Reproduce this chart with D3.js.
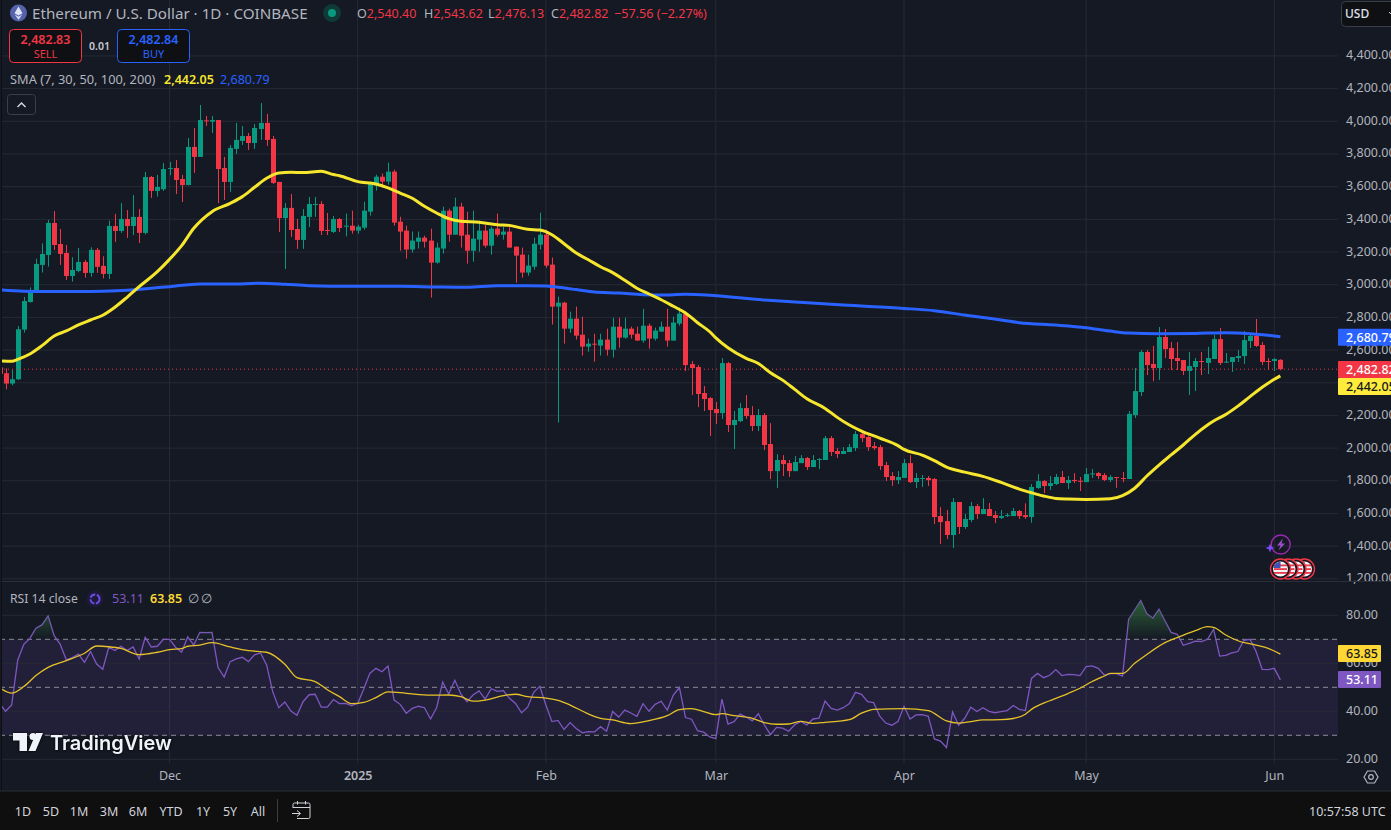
<!DOCTYPE html>
<html><head><meta charset="utf-8">
<style>
html,body{margin:0;padding:0;background:#151924;overflow:hidden}
svg{display:block}
text{font-family:"Noto Sans",Roboto,sans-serif}
</style>
<script src="https://cdn.jsdelivr.net/npm/d3@7"></script>
</head><body><div id="chart"></div>
<script>
const firstDay = "2024-11-03", lastDay = "2025-06-02";
const opens = [
2494,2458,2395,2421,2725,2894,2958,3121,3182,3378,3249,3194,3053,3084,3139,3072,3213,3115,3066,3359,3329,3402,3359,3415,3317,3659,3574,3584,
3710,3714,3647,3610,3843,3782,4006,3998,4008,3714,3629,3831,3880,3910,3867,3953,3990,3892,3629,3408,3470,3341,3274,3415,3490,3494,3335,3323,3402,3355,3361,
3331,3349,3447,3606,3661,3631,3692,3386,3331,3215,3263,3288,3270,3135,3221,3453,3306,3478,3306,3208,3276,3331,3239,3343,3306,3325,3233,3184,3074,3110,3245,
3306,3123,2866,2890,2731,2792,2694,2621,2639,2627,2664,2602,2743,2676,2731,2700,2658,2749,2670,2713,2743,2658,2762,2820,2514,2496,2337,2306,
2239,2214,2520,2141,2165,2245,2202,2135,2202,2025,1859,1927,1908,1859,1908,1939,1884,1927,1927,2061,1982,1964,1976,2000,2086,2068,2012,2006,1896,1829,1804,
1817,1908,1792,1811,1817,1811,1584,1553,1468,1670,1517,1560,1645,1596,1627,1590,1572,1584,1584,1615,1590,1578,1756,1798,1768,1780,1823,1786,1805,1800,
1792,1841,1847,1835,1805,1823,1817,1811,2202,2343,2588,2515,2490,2680,2612,2551,2539,2472,2496,2533,2521,2545,2667,2525,2527,2551,2563,2655,2686,2631,2533,
2533,2540.40];
const highs = [
2499,2488,2478,2747,2925,2984,3160,3253,3396,3451,3341,3243,3168,3225,3151,3229,3225,3174,3392,3433,3500,3457,3549,3463,3690,3665,3672,3745,
3751,3763,3672,3898,3959,4100,4033,4033,4008,3782,3855,3990,3971,3929,3984,4112,4045,3910,3629,3500,3555,3402,3463,3537,3537,3512,3439,3421,3408,3435,3453,
3367,3508,3631,3673,3680,3747,3704,3416,3361,3325,3325,3300,3343,3257,3478,3465,3533,3502,3447,3453,3392,3367,3355,3435,3355,3367,3233,3227,3184,3288,3441,
3337,3166,2927,2896,2835,2866,2804,2670,2700,2700,2731,2798,2798,2798,2743,2743,2853,2762,2737,2774,2853,2804,2860,2839,2533,2508,2380,2312,
2282,2551,2527,2227,2276,2325,2257,2239,2214,2153,1963,1957,1927,1951,1957,1945,1957,1939,2074,2074,2000,2006,2025,2104,2104,2080,2037,2019,1915,1853,1859,
1933,1957,1847,1835,1829,1817,1639,1621,1694,1670,1596,1670,1658,1694,1664,1615,1621,1602,1633,1621,1662,1780,1841,1804,1829,1841,1860,1829,1847,1823,
1878,1872,1854,1847,1835,1823,1854,2227,2490,2600,2600,2625,2741,2729,2649,2649,2539,2588,2551,2588,2619,2692,2735,2582,2557,2600,2716,2704,2790,2649,2551,
2551,2543.62];
const lows = [
2450,2360,2384,2417,2707,2890,2953,3074,3111,3213,3121,3029,3019,3076,3043,3049,3072,3039,3035,3262,3317,3286,3304,3255,3308,3531,3539,3574,
3670,3555,3506,3608,3684,3782,3971,3929,3500,3519,3568,3800,3855,3825,3831,3886,3849,3616,3323,3096,3292,3219,3219,3353,3415,3304,3304,3317,3323,3296,3312,
3312,3337,3423,3576,3594,3612,3361,3208,3159,3196,3221,3227,2921,3129,3190,3263,3306,3227,3129,3141,3202,3227,3184,3294,3276,3227,3013,3043,3055,3092,3215,
3104,2756,2156,2639,2706,2664,2566,2590,2529,2566,2566,2554,2615,2670,2670,2658,2645,2609,2658,2713,2621,2658,2749,2471,2325,2251,2227,2074,
2147,2178,2098,1994,2159,2178,2104,2104,1988,1810,1755,1829,1823,1859,1908,1866,1884,1872,1927,1951,1939,1964,1976,1982,2037,1982,1988,1866,1798,1768,1780,
1817,1786,1755,1762,1768,1535,1413,1443,1388,1474,1505,1547,1566,1596,1584,1541,1566,1578,1584,1566,1566,1543,1750,1725,1743,1774,1786,1750,1786,1737,
1792,1817,1811,1798,1792,1756,1792,1811,2184,2319,2447,2410,2417,2551,2478,2478,2447,2325,2349,2447,2453,2545,2508,2521,2466,2527,2515,2612,2619,2508,2478,
2472,2476.13];
const closes = [
2454,2395,2421,2727,2900,2964,3127,3188,3378,3243,3188,3053,3090,3139,3072,3213,3109,3066,3359,3329,3402,3359,3415,3317,3659,3574,3598,3708,
3714,3641,3610,3843,3782,4008,4002,4008,3708,3629,3837,3886,3910,3867,3959,3990,3886,3623,3408,3470,3335,3274,3421,3494,3494,3329,3329,3402,3347,3361,3331,
3355,3453,3625,3661,3631,3692,3380,3325,3215,3270,3288,3263,3135,3227,3453,3306,3478,3300,3208,3282,3331,3239,3343,3306,3325,3227,3178,3074,3117,3251,3306,
3117,2866,2890,2731,2792,2688,2621,2639,2635,2664,2602,2743,2676,2731,2694,2658,2749,2670,2719,2743,2658,2768,2823,2508,2490,2331,2300,2233,
2214,2520,2141,2172,2245,2196,2135,2202,2019,1859,1927,1902,1859,1915,1939,1884,1927,1933,2061,1976,1964,1982,2006,2086,2061,2006,2000,1890,1823,1804,1823,
1908,1792,1817,1817,1804,1578,1547,1468,1670,1517,1566,1645,1596,1627,1584,1572,1584,1590,1615,1584,1578,1762,1798,1768,1786,1823,1786,1805,1798,1796,
1841,1845,1829,1805,1823,1819,1811,2209,2349,2588,2508,2490,2680,2606,2545,2533,2472,2502,2533,2527,2551,2667,2521,2529,2557,2563,2661,2686,2625,2527,2529,
2545,2482.82];

const smaDates = ["2024-11-03","2024-11-05","2024-11-06","2024-11-08","2024-11-10","2024-11-12","2024-11-14","2024-11-16","2024-11-18","2024-11-20","2024-11-22","2024-11-24","2024-11-26","2024-11-29","2024-12-01","2024-12-03","2024-12-05","2024-12-08","2024-12-11","2024-12-13","2024-12-15","2024-12-17","2024-12-19","2024-12-21","2024-12-23","2024-12-26","2024-12-28",
"2024-12-29","2025-01-01","2025-01-04","2025-01-06","2025-01-08","2025-01-10","2025-01-12","2025-01-14","2025-01-16","2025-01-18","2025-01-21","2025-01-24","2025-01-26","2025-01-29","2025-01-31","2025-02-02","2025-02-04","2025-02-06","2025-02-08","2025-02-10","2025-02-12","2025-02-14","2025-02-16","2025-02-18","2025-02-20","2025-02-22","2025-02-24",
"2025-02-26","2025-02-28","2025-03-01","2025-03-03","2025-03-06","2025-03-08","2025-03-10","2025-03-12","2025-03-14","2025-03-16","2025-03-19","2025-03-21","2025-03-23","2025-03-25","2025-03-28","2025-03-31","2025-04-01","2025-04-04","2025-04-06","2025-04-08","2025-04-11","2025-04-14","2025-04-17","2025-04-20","2025-04-22","2025-04-24","2025-04-26","2025-04-28","2025-05-01","2025-05-05","2025-05-07","2025-05-09","2025-05-11","2025-05-13","2025-05-15","2025-05-17","2025-05-19","2025-05-21","2025-05-22","2025-05-24","2025-05-26","2025-05-28","2025-05-30","2025-06-01","2025-06-02"];
const sma50 = [2533,2531,2543,2576,2627,2686,2717,2754,2784,2813,2862,2923,2988,3080,3155,3239,3345,3447,3498,3539,3596,3651,3684,3688,3686,3694,3674,
3667,3631,3616,3592,3561,3529,3480,3439,3404,3388,3382,3367,3363,3339,3335,3306,3251,3194,3153,3110,3074,3027,2978,2943,2908,2868,2827,
2767,2712,2675,2614,2549,2518,2461,2416,2359,2302,2243,2188,2141,2104,2061,2015,1992,1957,1923,1884,1853,1827,1790,1749,1727,1707,1692,1688,1686,1690,1709,1754,1829,1896,1958,2019,2084,2141,2166,2206,2257,2315,2372,2421,2442.05];

const sma200Dates = ["2024-11-03","2024-11-07","2024-11-11","2024-11-16","2024-11-20","2024-11-24","2024-11-28","2024-12-01","2024-12-06","2024-12-11","2024-12-16","2024-12-20","2024-12-24","2024-12-31","2025-01-08","2025-01-14","2025-01-19","2025-01-24","2025-01-29","2025-02-01","2025-02-03","2025-02-06","2025-02-09","2025-02-13","2025-02-17","2025-02-20","2025-02-24","2025-03-09","2025-03-14","2025-03-22","2025-04-01","2025-04-06","2025-04-11","2025-04-17","2025-04-20","2025-04-26","2025-05-01","2025-05-05","2025-05-08","2025-05-13","2025-05-19","2025-05-24","2025-05-28","2025-05-31","2025-06-02"];
const sma200 = [2968,2960,2958,2958,2960,2966,2978,2988,3004,3004,3009,3003,2994,2990,2990,2986,2984,2994,2994,2992,2984,2970,2955,2949,2939,2937,2941,2906,2894,2875,2855,2841,2814,2784,2767,2753,2737,2716,2704,2700,2702,2706,2700,2690,2680.79];

const rsiValues = [
43.3,40.0,42.6,61.4,67.9,70.4,74.6,76.0,79.7,71.5,67.9,61.4,62.4,63.8,60.4,64.9,59.7,57.5,66.7,65.3,67.1,65.3,66.8,61.8,70.8,66.8,67.1,70.0,
70.0,66.7,64.6,71.0,67.6,72.9,72.8,72.9,58.2,54.3,60.7,61.8,62.5,60.7,63.5,64.3,59.3,48.2,41.5,43.9,40.1,38.3,44.0,46.9,47.1,41.7,41.7,44.9,43.2,43.3,42.4,
43.3,49.3,55.8,57.9,56.5,58.9,44.7,42.9,39.2,41.2,42.1,41.5,36.8,41.5,52.2,47.2,52.9,47.2,44.0,46.8,48.5,45.1,49.4,48.3,48.6,45.4,43.3,39.4,41.7,47.9,50.4,
42.6,35.7,36.2,32.4,35.3,32.8,31.0,31.5,31.4,33.6,31.7,39.9,37.6,40.5,39.3,37.9,43.2,40.0,42.9,44.2,40.5,46.8,49.9,37.4,36.7,31.9,31.3,29.3,
28.6,45.1,34.7,35.7,38.8,37.6,36.0,39.0,34.3,30.3,33.3,33.0,31.7,34.4,35.8,34.3,36.8,37.1,44.3,41.2,40.5,41.5,43.2,47.9,47.1,44.0,43.6,38.0,35.1,34.2,35.7,
42.1,36.8,38.5,38.6,37.9,28.5,27.6,24.9,39.7,34.2,37.1,41.7,39.9,41.5,40.0,39.4,39.9,40.3,42.4,40.8,40.3,53.7,55.8,54.0,55.0,57.4,54.9,55.4,55.3,54.9,
58.6,58.9,57.9,55.1,55.7,55.7,54.7,78.3,82.2,86.1,80.6,78.8,82.5,77.6,72.9,72.1,67.5,68.3,69.2,69.0,70.0,74.2,63.0,63.3,64.3,64.9,69.6,70.0,64.9,57.5,57.4,
57.9,53.11];

const rsiMaDates = ["2024-11-03","2024-11-05","2024-11-07","2024-11-09","2024-11-11","2024-11-14","2024-11-17","2024-11-19","2024-11-21","2024-11-23","2024-11-26","2024-11-29","2024-12-01","2024-12-03","2024-12-04","2024-12-06","2024-12-08","2024-12-11","2024-12-14","2024-12-17","2024-12-20","2024-12-22","2024-12-25","2024-12-27","2024-12-29","2024-12-31","2025-01-02","2025-01-04","2025-01-06","2025-01-09","2025-01-13","2025-01-16","2025-01-18",
"2025-01-20","2025-01-22","2025-01-25","2025-01-27","2025-01-29","2025-02-01","2025-02-03","2025-02-05","2025-02-08","2025-02-10","2025-02-12","2025-02-15","2025-02-18","2025-02-21","2025-02-23","2025-02-25","2025-02-27","2025-03-01","2025-03-02","2025-03-04","2025-03-07","2025-03-09","2025-03-11","2025-03-13","2025-03-15","2025-03-17","2025-03-19","2025-03-23","2025-03-25","2025-03-27","2025-04-01","2025-04-05","2025-04-08",
"2025-04-10","2025-04-12","2025-04-14","2025-04-17","2025-04-19","2025-04-21","2025-04-22","2025-04-25","2025-04-28","2025-04-30","2025-05-02","2025-05-04","2025-05-05","2025-05-07","2025-05-09","2025-05-11","2025-05-14","2025-05-16","2025-05-19","2025-05-21","2025-05-22","2025-05-24","2025-05-26","2025-05-29","2025-05-31","2025-06-02"];
const rsiMa = [49.9,47.6,50.3,54.9,58.3,61.1,64.2,67.2,66.9,66.2,63.6,64.6,65.7,66.1,67.1,67.6,68.6,66.8,65.3,64.6,59.6,54.0,52.4,49.0,46.1,43.2,43.7,45.7,48.1,47.5,46.7,46.8,46.1,
44.2,44.7,46.5,47.1,46.1,45.5,44.6,42.6,38.9,37.1,36.4,34.9,36.1,38.2,40.7,41.1,39.9,38.6,39.0,38.2,37.1,35.3,34.6,34.7,35.8,35.0,35.4,36.5,39.2,40.8,41.1,40.3,36.0,
35.1,35.7,36.4,36.5,37.0,38.8,40.8,44.4,47.4,49.6,52.4,54.7,55.8,55.8,60.0,63.7,68.6,70.7,73.6,75.3,75.0,71.8,69.4,67.6,66.2,63.85];

const priceTicks = [1200,1400,1600,1800,2000,2200,2400,2600,2800,3000,3200,3400,3600,3800,4000,4200,4400];
const rsiTicks = [80,60,40,20];
const rsiBands = [70,50,30];
const monthTicks = ["2024-12-01","2025-01-01","2025-02-01","2025-03-01","2025-04-01","2025-05-01","2025-06-01"];
const monthLabels = ["Dec","2025","Feb","Mar","Apr","May","Jun"];
const rangeButtons = ["1D","5D","1M","3M","6M","YTD","1Y","5Y","All"];
const lastPrice = 2482.82, lastSma50 = 2442.05, lastSma200 = 2680.79, lastRsi = 53.11, lastRsiMa = 63.85;

const W=1391,H=830,PW=1338;
const C={bg:"#151924",grid:"#262a36",text:"#b2b5be",red:"#f23645",green:"#089981",yel:"#f7e62e",blue:"#2962ff",pur:"#7e57c2",ma:"#e6c228"};
const parse=d3.utcParse("%Y-%m-%d");
const dates=d3.utcDay.range(parse(firstDay),d3.utcDay.offset(parse(lastDay),1));
const candles=dates.map((d,i)=>({d,o:opens[i],h:highs[i],l:lows[i],c:closes[i],rsi:rsiValues[i]}));

const x=d3.scaleUtc().domain([parse("2024-12-01"),parse("2025-06-01")]).range([169.5,1274.3]);
const y=d3.scaleLinear().domain([1200,4000]).range([578.8,121.3]);
const r=d3.scaleLinear().domain([20,80]).range([759.3,615.3]);
const fmt=d3.format(",.2f");

const svg=d3.select("#chart").append("svg").attr("width",W).attr("height",H).attr("viewBox",`0 0 ${W} ${H}`);
const defs=svg.append("defs");
const clip=(id,a,b,c,d)=>defs.append("clipPath").attr("id",id).append("rect").attr("x",a).attr("y",b).attr("width",c).attr("height",d);
clip("cMain",2,0,PW-2,581); clip("cRsi",2,582,PW-2,181); clip("cAbove",2,582,PW-2,r(70)-582); clip("cAxisMain",PW,0,W-PW,584); clip("cAxisRsi",PW,582,W-PW,181);
const grad=defs.append("linearGradient").attr("id","ob").attr("gradientUnits","userSpaceOnUse").attr("x1",0).attr("x2",0).attr("y1",r(86)).attr("y2",r(70));
grad.append("stop").attr("offset",0).attr("stop-color","#2f6b3c").attr("stop-opacity",.85);
grad.append("stop").attr("offset",1).attr("stop-color","#2f6b3c").attr("stop-opacity",0);

svg.append("rect").attr("width",W).attr("height",H).attr("fill",C.bg);

/* grids */
const gMain=svg.append("g").attr("clip-path","url(#cMain)");
const gRsi=svg.append("g").attr("clip-path","url(#cRsi)");
gMain.selectAll(".h").data(priceTicks).join("line").attr("x1",0).attr("x2",PW).attr("y1",d=>y(d)).attr("y2",d=>y(d)).attr("stroke",C.grid);
const vx=monthTicks.map(parse);
[gMain,gRsi].forEach(g=>g.selectAll(".v").data(vx).join("line").attr("x1",d=>x(d)).attr("x2",d=>x(d)).attr("y1",0).attr("y2",H).attr("stroke",C.grid));

/* candles */
const cg=gMain.append("g");
cg.selectAll(".w").data(candles).join("line")
 .attr("x1",d=>Math.round(x(d.d))+.5).attr("x2",d=>Math.round(x(d.d))+.5)
 .attr("y1",d=>y(d.h)).attr("y2",d=>y(d.l)).attr("stroke",d=>d.c>=d.o?C.green:C.red);
cg.selectAll(".b").data(candles).join("rect")
 .attr("x",d=>Math.round(x(d.d))-2).attr("width",5)
 .attr("y",d=>y(Math.max(d.o,d.c))).attr("height",d=>Math.max(1,Math.abs(y(d.o)-y(d.c))))
 .attr("fill",d=>d.c>=d.o?C.green:C.red);

/* last price dotted */
gMain.append("line").attr("x1",0).attr("x2",PW).attr("y1",y(lastPrice)).attr("y2",y(lastPrice)).attr("stroke",C.red).attr("stroke-dasharray","1 3").attr("stroke-width",1);

/* SMAs */
const line=d3.line().x(d=>x(d[0])).y(d=>y(d[1])).curve(d3.curveMonotoneX);
gMain.append("path").attr("d",line(sma200Dates.map((d,i)=>[parse(d),sma200[i]]))).attr("fill","none").attr("stroke",C.blue).attr("stroke-width",3);
gMain.append("path").attr("d",line(smaDates.map((d,i)=>[parse(d),sma50[i]]))).attr("fill","none").attr("stroke",C.yel).attr("stroke-width",3);

/* RSI panel */
gRsi.append("rect").attr("x",0).attr("width",PW).attr("y",r(70)).attr("height",r(30)-r(70)).attr("fill",C.pur).attr("fill-opacity",.13);
gRsi.selectAll(".rh").data(rsiTicks).join("line").attr("x1",0).attr("x2",PW).attr("y1",d=>r(d)).attr("y2",d=>r(d)).attr("stroke",C.grid);
gRsi.selectAll(".rb").data(rsiBands).join("line").attr("x1",0).attr("x2",PW).attr("y1",d=>r(d)).attr("y2",d=>r(d)).attr("stroke","#8a8d98").attr("stroke-dasharray","5 4");
const rsiPts=candles.map(d=>[d.d,d.rsi]);
const area=d3.area().x(d=>x(d[0])).y0(r(70)).y1(d=>r(d[1]));
svg.append("g").attr("clip-path","url(#cAbove)").append("path").attr("d",area(rsiPts)).attr("fill","url(#ob)");
const rl=d3.line().x(d=>x(d[0])).y(d=>r(d[1]));
gRsi.append("path").attr("d",rl(rsiPts)).attr("fill","none").attr("stroke",C.pur).attr("stroke-width",1.3);
gRsi.append("path").attr("d",d3.line().x(d=>x(d[0])).y(d=>r(d[1])).curve(d3.curveMonotoneX)(rsiMaDates.map((d,i)=>[parse(d),rsiMa[i]]))).attr("fill","none").attr("stroke",C.ma).attr("stroke-width",1.3);

/* axes */
function styleAxis(g,size){g.select(".domain").remove();g.selectAll(".tick line").remove();g.selectAll("text").attr("fill",C.text).attr("font-size",size).attr("x",0);}
svg.append("g").attr("clip-path","url(#cAxisMain)").append("g").attr("transform","translate(1346,-1)")
 .call(d3.axisRight(y).tickValues(priceTicks).tickFormat(fmt)).call(g=>styleAxis(g,12.5));
svg.append("g").attr("clip-path","url(#cAxisRsi)").append("g").attr("transform","translate(1346,-1)")
 .call(d3.axisRight(r).tickValues(rsiTicks).tickFormat(d3.format(".2f"))).call(g=>styleAxis(g,12.5));
svg.append("g").attr("transform","translate(0,766)")
 .call(d3.axisBottom(x).tickValues(vx).tickFormat((d,i)=>monthLabels[i]))
 .call(g=>{g.select(".domain").remove();g.selectAll(".tick line").remove();
   g.selectAll("text").attr("fill",C.text).attr("font-size",12.5).attr("y",5).attr("dy","0.71em").attr("font-weight",(d,i)=>monthLabels[i]==="2025"?600:400);});

/* dividers */
svg.append("line").attr("x1",0).attr("x2",W).attr("y1",581.5).attr("y2",581.5).attr("stroke","#2a2e39");
svg.append("line").attr("x1",1.5).attr("x2",1.5).attr("y1",0).attr("y2",791).attr("stroke","#0d0e12").attr("stroke-width",1);

/* price tags */
function tag(yy,h,w,fill,txt,col,fw){
 svg.append("rect").attr("x",PW).attr("y",yy-h/2).attr("width",w).attr("height",h).attr("fill",fill).attr("rx",1);
 svg.append("text").attr("x",1346).attr("y",yy+4.5).attr("fill",col).attr("font-size",12.5).attr("font-weight",fw||500).text(txt);
}
tag(y(lastSma200)+.5,17,W-PW,C.blue,fmt(lastSma200),"#fff");
tag(y(lastPrice)+.3,17,W-PW,C.red,fmt(lastPrice),"#fff");
tag(386.5,17,W-PW,"#ffeb3b",fmt(lastSma50),"#131722");
tag(653.5,17,43,"#fdd835",d3.format(".2f")(lastRsiMa),"#131722");
tag(679.5,17,43,C.pur,d3.format(".2f")(lastRsi),"#fff");

/* header */
const T=(xx,yy,s,col,fs,fw,anc)=>svg.append("text").attr("x",xx).attr("y",yy).attr("fill",col).attr("font-size",fs).attr("font-weight",fw||400).attr("text-anchor",anc||"start").text(s);
svg.append("circle").attr("cx",18.5).attr("cy",13).attr("r",8.5).attr("fill","#5463ab");
svg.append("path").attr("d","M18.5 6.5L22.5 13.3L18.5 15.6L14.5 13.3Z M18.5 16.7L22.3 14.4L18.5 19.7L14.7 14.4Z").attr("fill","#dfe4f5");
T(32,18.5,"Ethereum / U.S. Dollar · 1D · COINBASE",C.text,15.2);
svg.append("circle").attr("cx",332).attr("cy",13).attr("r",9).attr("fill","#0f3a36");
svg.append("circle").attr("cx",332).attr("cy",13).attr("r",4).attr("fill","#089981");
const ohlc=[["O","2,540.40",357],["H","2,543.62",424],["L","2,476.13",488],["C","2,482.82",551]];
ohlc.forEach(([a,b,xx])=>{const t=T(xx,18,a,C.text,12.5);t.append("tspan").attr("fill",C.red).text(b);});
T(614,18,"−57.56 (−2.27%)",C.red,12.6);

function btn(xx,col,top,bot){
 svg.append("rect").attr("x",xx+.5).attr("y",29.5).attr("width",72).attr("height",33).attr("rx",4).attr("fill","#0f1014").attr("stroke",col).attr("stroke-width",1);
 T(xx+36.5,44,top,col,12.5,600,"middle"); T(xx+36.5,58,bot,col,11,400,"middle");
}
btn(9,C.red,"2,482.83","SELL"); btn(117,C.blue,"2,482.84","BUY");
T(99.5,50,"0.01","#c9ccd3",10.5,600,"middle");
T(10,84,"SMA (7, 30, 50, 100, 200)",C.text,12.8);
T(164,84,fmt(lastSma50),C.yel,12.5,600);
T(220,84,fmt(lastSma200),C.blue,12.5);
svg.append("rect").attr("x",7.5).attr("y",94.5).attr("width",28).attr("height",20).attr("rx",3).attr("fill",C.bg).attr("stroke","#3a3e49");
svg.append("path").attr("d","M17.5 107L21.5 103L25.5 107").attr("fill","none").attr("stroke","#d1d4dc").attr("stroke-width",1.5);

/* USD */
svg.append("rect").attr("x",1341.5).attr("y",1.5).attr("width",60).attr("height",25).attr("rx",4).attr("fill","#0f1014").attr("stroke","#3a3e49");
T(1345,18,"USD","#e0e3eb",12,500);
svg.append("path").attr("d","M1389 12L1392 15").attr("stroke","#d1d4dc").attr("fill","none");

/* RSI legend */
T(10,603,"RSI 14 close",C.text,12.2);
svg.append("circle").attr("cx",95).attr("cy",599).attr("r",8.5).attr("fill","#1e1a3c");
svg.append("circle").attr("cx",95).attr("cy",599).attr("r",4.5).attr("fill","none").attr("stroke","#6a4be0").attr("stroke-width",2).attr("stroke-dasharray","6 1.5");
T(112,603,d3.format(".2f")(lastRsi),C.pur,12.5);
T(150,603,d3.format(".2f")(lastRsiMa),"#fdd835",12.5,600);
T(188,603,"∅",C.text,12.5); T(201,603,"∅",C.text,12.5);

/* logo */
const lg=svg.append("g").attr("filter","drop-shadow(0 0 1.5px #000)");
lg.append("path").attr("d","M13 733H27V751H19.5V740.5H13Z").attr("fill","#f0f3fa");
lg.append("circle").attr("cx",33).attr("cy",736.5).attr("r",3.5).attr("fill","#f0f3fa");
lg.append("path").attr("d","M36 733H43L35.5 751H28.5Z").attr("fill","#f0f3fa");
lg.append("text").attr("x",50).attr("y",749.5).attr("fill","#f0f3fa").attr("font-size",20).attr("font-weight",600).style("font-family","Inter,Roboto,sans-serif").text("TradingView");

/* settings hex */
svg.append("path").attr("d","M1364 777L1367.5 771H1374.5L1378 777L1374.5 783H1367.5Z").attr("fill","none").attr("stroke","#b2b5be").attr("stroke-width",1.2);
svg.append("circle").attr("cx",1371).attr("cy",777).attr("r",2.3).attr("fill","none").attr("stroke","#b2b5be").attr("stroke-width",1.2);

/* events */
const flag=cx=>{const g=svg.append("g");
 g.append("circle").attr("cx",cx).attr("cy",569).attr("r",10).attr("fill","#151924").attr("stroke",C.red).attr("stroke-width",1.4);
 g.append("circle").attr("cx",cx).attr("cy",569).attr("r",7.5).attr("fill","#f4f4f6");
 [-4.5,-.8,3].forEach(o=>g.append("rect").attr("x",cx-6.5).attr("y",569+o).attr("width",13).attr("height",1.8).attr("fill","#e8394a"));
 g.append("path").attr("d",`M${cx-7} ${569-1}A7.3 7.3 0 0 1 ${cx} ${569-7.3}V${569-1}Z`).attr("fill","#3f51b5");};
[1304.5,1296,1288,1280.5].forEach(flag);
svg.append("circle").attr("cx",1280.7).attr("cy",544.5).attr("r",9.5).attr("fill","none").attr("stroke","#9c27b0").attr("stroke-width",1.4);
svg.append("path").attr("d","M1283 538.5L1277 545.5H1280.5L1278.5 550.5L1285 543.5H1281.5Z").attr("fill","#9c4dcc");
svg.append("path").attr("d","M1270 543.5L1271.2 546.8L1274.5 548L1271.2 549.2L1270 552.5L1268.8 549.2L1265.5 548L1268.8 546.8Z").attr("fill","#7c4dff");

/* bottom bar */
svg.append("rect").attr("x",0).attr("y",791).attr("width",W).attr("height",39).attr("fill","#0f0f0f");
svg.append("line").attr("x1",0).attr("x2",W).attr("y1",791).attr("y2",791).attr("stroke","#2a2e39");
const bx=[23,51,79,109,138,171,203,230,258];
rangeButtons.forEach((b,i)=>T(bx[i],816,b,"#d1d4dc",12.5,400,"middle"));
svg.append("line").attr("x1",277.5).attr("x2",277.5).attr("y1",799).attr("y2",822).attr("stroke","#3a3e49");
svg.append("path").attr("d","M293 808V804.5Q293 803 294.5 803H308.5Q310 803 310 804.5V817Q310 818.5 308.5 818.5H297M293 807.5H310M297.5 801V804.5M305.5 801V804.5M292 813.5H300M297 810.5L300.5 813.5L297 816.5").attr("fill","none").attr("stroke","#d1d4dc").attr("stroke-width",1);
T(1309,816,"10:57:58 UTC","#d1d4dc",12.5);
</script></body></html>
